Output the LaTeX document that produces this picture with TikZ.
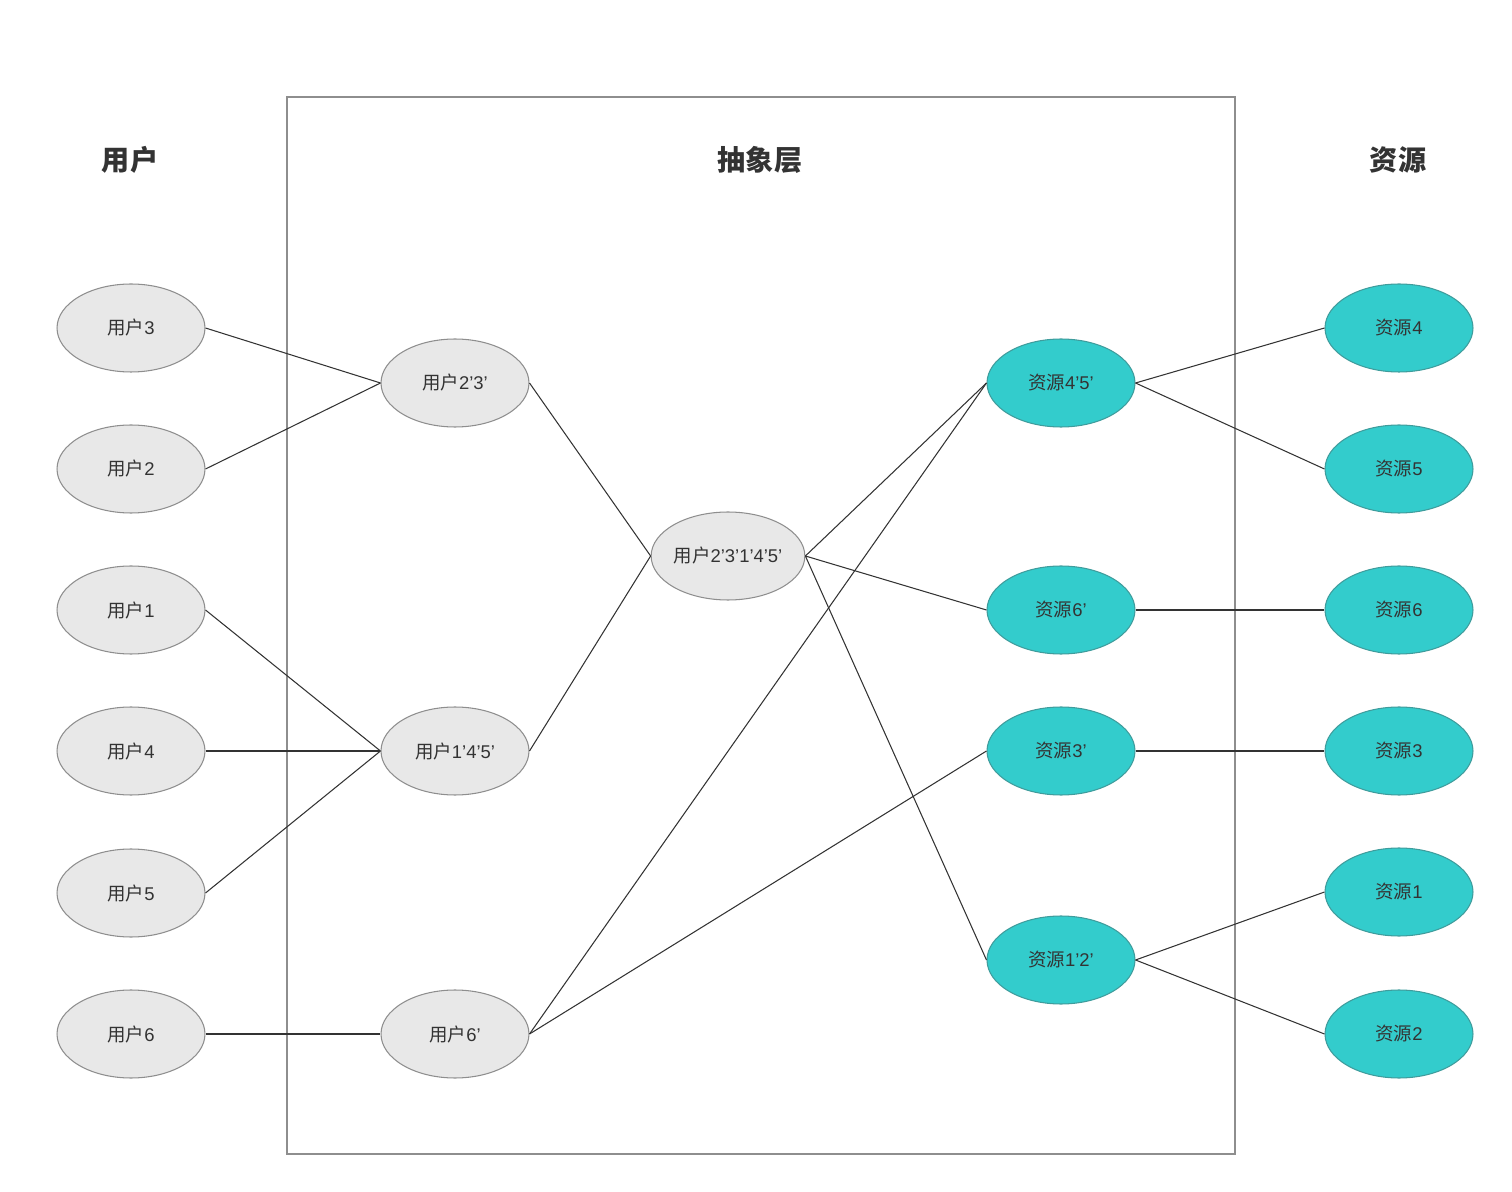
\documentclass[tikz,border=0pt]{standalone}
\usepackage{fontspec}
\setmainfont{Liberation Sans}
\newfontfamily\cjk{Noto Sans CJK SC}
\usetikzlibrary{shapes.geometric}
\definecolor{ugray}{HTML}{E8E8E8}
\definecolor{ugrayline}{HTML}{8E8E8E}
\definecolor{teal1}{HTML}{33CCCC}
\definecolor{tealline}{HTML}{3F9C9C}
\definecolor{txt}{HTML}{333333}
\newcommand{\yh}{{\cjk 用户}}
\newcommand{\zy}{{\cjk 资源}}
\tikzset{
  user/.style={ellipse, draw=ugrayline, fill=ugray, line width=0.6pt,
    minimum width=2.96cm, minimum height=1.76cm, inner sep=0pt,
    font=\fontsize{10.5}{12}\selectfont, text=txt},
  res/.style={user, draw=tealline, fill=teal1},
  title/.style={font=\cjk\fontsize{16}{18}\selectfont\bfseries, text=txt},
  link/.style={draw=black!80, line width=0.6pt},
}
\begin{document}
\begin{tikzpicture}[x=0.02cm, y=-0.02cm]
\useasboundingbox (0,0) rectangle (1512,1192);
\draw[ugrayline, line width=0.7pt] (287,97) rectangle (1235,1154);
\node[title] (tu) at (130,160) {用户};
\node[title] (ta) at (760,160) {抽象层};
\node[title] (tr) at (1398,160) {资源};

\node[user] (u3) at (131,328) {\yh 3};
\node[user] (u2) at (131,469) {\yh 2};
\node[user] (u1) at (131,610) {\yh 1};
\node[user] (u4) at (131,751) {\yh 4};
\node[user] (u5) at (131,893) {\yh 5};
\node[user] (u6) at (131,1034) {\yh 6};

\node[user] (a23) at (455,383) {\yh 2'3'};
\node[user] (a145) at (455,751) {\yh 1'4'5'};
\node[user] (a6) at (455,1034) {\yh 6'};
\node[user] (a23145) at (728,556) {\yh 2'3'1'4'5'};

\node[res] (r45) at (1061,383) {\zy 4'5'};
\node[res] (r6) at (1061,610) {\zy 6'};
\node[res] (r3) at (1061,751) {\zy 3'};
\node[res] (r12) at (1061,960) {\zy 1'2'};

\node[res] (R4) at (1399,328) {\zy 4};
\node[res] (R5) at (1399,469) {\zy 5};
\node[res] (R6) at (1399,610) {\zy 6};
\node[res] (R3) at (1399,751) {\zy 3};
\node[res] (R1) at (1399,892) {\zy 1};
\node[res] (R2) at (1399,1034) {\zy 2};

\draw[link] (u3.east) -- (a23.west);
\draw[link] (u2.east) -- (a23.west);
\draw[link] (u1.east) -- (a145.west);
\draw[link] (u4.east) -- (a145.west);
\draw[link] (u5.east) -- (a145.west);
\draw[link] (u6.east) -- (a6.west);
\draw[link] (a23.east) -- (a23145.west);
\draw[link] (a145.east) -- (a23145.west);
\draw[link] (a23145.east) -- (r45.west);
\draw[link] (a23145.east) -- (r6.west);
\draw[link] (a23145.east) -- (r12.west);
\draw[link] (a6.east) -- (r45.west);
\draw[link] (a6.east) -- (r3.west);
\draw[link] (r45.east) -- (R4.west);
\draw[link] (r45.east) -- (R5.west);
\draw[link] (r6.east) -- (R6.west);
\draw[link] (r3.east) -- (R3.west);
\draw[link] (r12.east) -- (R1.west);
\draw[link] (r12.east) -- (R2.west);
\end{tikzpicture}
\end{document}
